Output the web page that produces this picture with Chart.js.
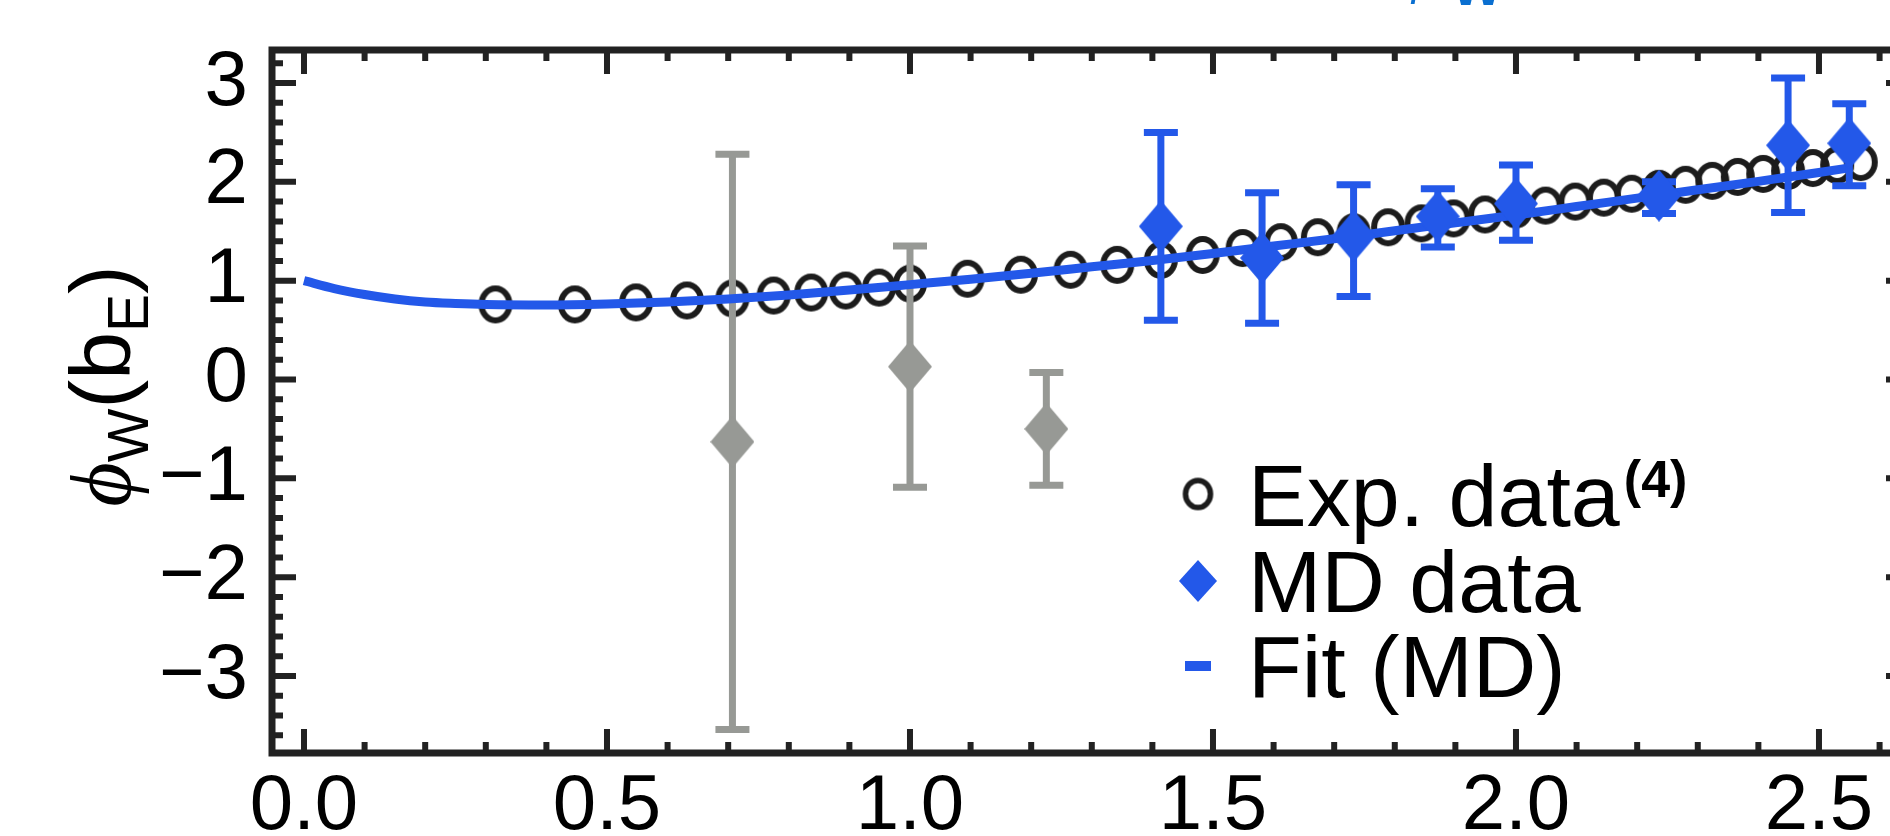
<!DOCTYPE html>
<html><head><meta charset="utf-8">
<script src="https://cdn.jsdelivr.net/npm/chart.js@4.4.0/dist/chart.umd.min.js"></script>
<style>html,body{margin:0;padding:0;background:#fff;overflow:hidden;width:1890px;height:836px}canvas{display:block}</style>
</head><body>
<canvas id="c" width="1930" height="836"></canvas>
<script>
// ---- data ----
const expX = [0.316,0.447,0.548,0.632,0.707,0.775,0.837,0.894,0.949,1.000,1.095,1.183,1.265,1.342,1.414,1.483,1.549,1.612,1.673,1.732,1.789,1.844,1.897,1.949,2.000,2.049,2.098,2.145,2.191,2.236,2.280,2.324,2.366,2.408,2.449,2.490,2.530,2.569];
const expY = [0.76,0.76,0.78,0.80,0.82,0.85,0.88,0.90,0.93,0.97,1.02,1.06,1.11,1.16,1.21,1.26,1.33,1.39,1.44,1.49,1.54,1.58,1.63,1.67,1.72,1.76,1.80,1.84,1.88,1.93,1.97,2.01,2.05,2.08,2.11,2.14,2.17,2.20];
const mdX  = [1.414,1.581,1.732,1.871,2.000,2.236,2.449,2.550];
const mdY  = [1.55,1.23,1.45,1.65,1.78,1.86,2.37,2.39];
const mdLo = [0.60,0.57,0.84,1.34,1.41,1.68,1.69,1.96];
const mdHi = [2.50,1.89,1.97,1.93,2.17,2.00,3.05,2.79];
const exX  = [0.707,1.000,1.225];
const exY  = [-0.63,0.13,-0.50];
const exLo = [-3.54,-1.09,-1.07];
const exHi = [2.28,1.35,0.07];
const fitX = [0,0.05,0.10,0.15,0.20,0.25,0.30,0.40,0.50,0.60,0.70,0.80,0.90,1.00,1.10,1.20,1.30,1.40,1.50,1.60,1.70,1.80,1.90,2.00,2.10,2.20,2.30,2.40,2.50,2.555];
const fitY = [1.00,0.92,0.86,0.815,0.785,0.77,0.76,0.755,0.765,0.785,0.815,0.855,0.905,0.96,1.015,1.075,1.14,1.205,1.275,1.35,1.425,1.505,1.585,1.665,1.75,1.835,1.92,2.005,2.095,2.145];
const xTicks = [0,0.5,1,1.5,2,2.5];
const yTicks = [-3,-2,-1,0,1,2,3];
const xMinor = [0.1,0.2,0.3,0.4,0.6,0.7,0.8,0.9,1.1,1.2,1.3,1.4,1.6,1.7,1.8,1.9,2.1,2.2,2.3,2.4,2.6];
const yMinor = [-3.6,-3.4,-3.2,-2.8,-2.6,-2.4,-2.2,-1.8,-1.6,-1.4,-1.2,-0.8,-0.6,-0.4,-0.2,0.2,0.4,0.6,0.8,1.2,1.4,1.6,1.8,2.2,2.4,2.6,2.8,3.2];
const legendLabels = ['Exp. data','MD data','Fit (MD)'];

const BLUE = '#2358E9', GRAY = '#979995', INK = '#1c1c1c';
const FONT = '"Liberation Sans", Arial, Helvetica, sans-serif';

function diamond(color, w, h){
  const c = document.createElement('canvas'); c.width = w; c.height = h;
  const g = c.getContext('2d'); g.fillStyle = color; g.beginPath();
  g.moveTo(w/2,0); g.lineTo(w,h/2); g.lineTo(w/2,h); g.lineTo(0,h/2); g.closePath(); g.fill();
  return c;
}
function ring(color, rx, ry, lw){
  const w = Math.ceil(2*rx+lw+2), h = Math.ceil(2*ry+lw+2);
  const c = document.createElement('canvas'); c.width = w; c.height = h;
  const g = c.getContext('2d'); g.strokeStyle = color; g.lineWidth = lw;
  g.beginPath(); g.ellipse(w/2, h/2, rx, ry, 0, 0, Math.PI*2); g.stroke();
  return c;
}
const blueDia = diamond(BLUE, 44, 52), grayDia = diamond(GRAY, 44, 52);
const expRing = ring(INK, 14, 16, 6);
const pts = (xs, ys) => xs.map((x,i)=>({x, y: ys[i]}));

const errorBars = {
  id: 'errorBars',
  beforeDatasetDraw(chart, args){
    const ds = chart.data.datasets[args.index];
    if (!ds.errLo) return;
    const {ctx, scales:{x, y}} = chart;
    ctx.save(); ctx.strokeStyle = ds.errColor; ctx.lineCap = 'butt';
    ds.data.forEach((p,i)=>{
      const px = x.getPixelForValue(p.x), lo = y.getPixelForValue(ds.errLo[i]), hi = y.getPixelForValue(ds.errHi[i]);
      ctx.lineWidth = 7;
      ctx.beginPath(); ctx.moveTo(px, lo); ctx.lineTo(px, hi); ctx.stroke();
      ctx.beginPath(); ctx.moveTo(px-17, lo); ctx.lineTo(px+17, lo);
      ctx.moveTo(px-17, hi); ctx.lineTo(px+17, hi); ctx.stroke();
    });
    ctx.restore();
  }
};

const frame = {
  id: 'frame',
  afterDraw(chart){
    const {ctx, chartArea:a, scales:{x, y}} = chart;
    ctx.save(); ctx.strokeStyle = '#222'; ctx.lineCap = 'butt'; ctx.lineWidth = 6;
    const vt = (v, len) => { const p = x.getPixelForValue(v);
      ctx.beginPath(); ctx.moveTo(p, a.bottom); ctx.lineTo(p, a.bottom-len);
      ctx.moveTo(p, a.top); ctx.lineTo(p, a.top+len); ctx.stroke(); };
    const ht = (v, len) => { const p = y.getPixelForValue(v);
      ctx.beginPath(); ctx.moveTo(a.left, p); ctx.lineTo(a.left+len, p);
      ctx.moveTo(a.right, p); ctx.lineTo(a.right-len, p); ctx.stroke(); };
    xTicks.forEach(v=>vt(v,24)); xMinor.forEach(v=>vt(v,11));
    yTicks.forEach(v=>ht(v,24)); yMinor.forEach(v=>ht(v,11));
    ctx.lineWidth = 7;
    ctx.strokeRect(a.left, a.top, a.right-a.left, a.bottom-a.top);
    ctx.restore();
  }
};

const annotations = {
  id: 'annotations',
  afterDraw(chart){
    const ctx = chart.ctx;
    ctx.save();
    // legend
    const lx = 1198, tx = 1248, rows = [494, 581, 666];
    const lr = ring(INK, 12.5, 13.5, 5.5);
    ctx.drawImage(lr, lx - lr.width/2, rows[0] - lr.height/2);
    ctx.drawImage(diamond(BLUE, 38, 42), lx-19, rows[1]-21);
    ctx.fillStyle = BLUE; ctx.fillRect(lx-13, rows[2]-5, 26, 10);
    ctx.fillStyle = '#000'; ctx.textBaseline = 'alphabetic'; ctx.textAlign = 'left';
    ctx.font = '88px ' + FONT;
    const base = [526, 612, 697];
    legendLabels.forEach((t,i)=>ctx.fillText(t, tx, base[i]));
    const w0 = ctx.measureText(legendLabels[0]).width;
    ctx.font = 'bold 52px ' + FONT;
    ctx.fillText('(4)', tx + w0 + 4, 497);
    // y-axis title
    ctx.translate(102, 386); ctx.rotate(-Math.PI/2);
    const F = 86;
    const parts = [
      {t:'\u03D5', f:'italic '+F+'px "Liberation Serif", "DejaVu Serif", serif', dy:0},
      {t:'W', f:Math.round(F*0.66)+'px '+FONT, dy:F*0.2},
      {t:'(b', f:F+'px '+FONT, dy:0},
      {t:'E', f:Math.round(F*0.66)+'px '+FONT, dy:F*0.2},
      {t:')', f:F+'px '+FONT, dy:0}
    ];
    let tot = 0; parts.forEach(p=>{ctx.font=p.f; p.w=ctx.measureText(p.t).width; tot+=p.w;});
    let cx = -tot/2; const by = F*0.33;
    parts.forEach(p=>{ctx.font=p.f; ctx.fillText(p.t, cx, by+p.dy); cx+=p.w;});
    ctx.restore();
    // cut-off blue title fragment at the top edge
    ctx.save(); ctx.fillStyle = '#0a6fd0'; ctx.textAlign='center'; ctx.textBaseline='alphabetic';
    ctx.font = 'bold 54px ' + FONT; ctx.fillText('W', 1477, 5);
    ctx.font = 'italic 70px "Liberation Serif", "DejaVu Serif", serif'; ctx.fillText('\u03D5', 1418, -11);
    ctx.restore();
  }
};

new Chart(document.getElementById('c'), {
  type: 'scatter',
  data: { datasets: [
    { label: legendLabels[0], data: pts(expX, expY), order: 4, pointStyle: expRing, pointRadius: 16 },
    { label: 'MD (excluded)', data: pts(exX, exY), order: 3, pointStyle: grayDia, errLo: exLo, errHi: exHi, errColor: GRAY },
    { label: legendLabels[2], data: pts(fitX, fitY), order: 2, showLine: true, pointRadius: 0, borderColor: BLUE,
      borderWidth: 9, cubicInterpolationMode: 'monotone', fill: false },
    { label: legendLabels[1], data: pts(mdX, mdY), order: 1, pointStyle: blueDia, errLo: mdLo, errHi: mdHi, errColor: BLUE }
  ]},
  options: {
    responsive: false, animation: false, devicePixelRatio: 1,
    layout: { padding: { top: 50, right: 20, left: 0, bottom: 0 } },
    plugins: { legend: { display: false }, tooltip: { enabled: false } },
    scales: {
      x: { type: 'linear', min: -0.0528, max: 2.6502,
        afterBuildTicks: s => { s.ticks = xTicks.map(v=>({value:v})); },
        afterFit: s => { s.height = 83; s.paddingLeft = 0; s.paddingRight = 0; s.paddingTop = 0; s.paddingBottom = 0; },
        grid: { display: false, drawTicks: false }, border: { display: false },
        ticks: { callback: v => v.toFixed(1), color: '#000', font: { family: FONT, size: 78 }, padding: 8, maxRotation: 0, autoSkip: false } },
      y: { type: 'linear', min: -3.779, max: 3.334,
        afterBuildTicks: s => { s.ticks = yTicks.map(v=>({value:v})); },
        afterFit: s => { s.width = 272; s.paddingTop = 0; s.paddingBottom = 0; s.paddingLeft = 0; s.paddingRight = 0; },
        grid: { display: false, drawTicks: false }, border: { display: false },
        ticks: { callback: v => (v < 0 ? '\u2212' + Math.abs(v) : String(v)), color: '#000', font: { family: FONT, size: 78 }, padding: 24, autoSkip: false } }
    }
  },
  plugins: [errorBars, frame, annotations]
});
</script>
</body></html>
